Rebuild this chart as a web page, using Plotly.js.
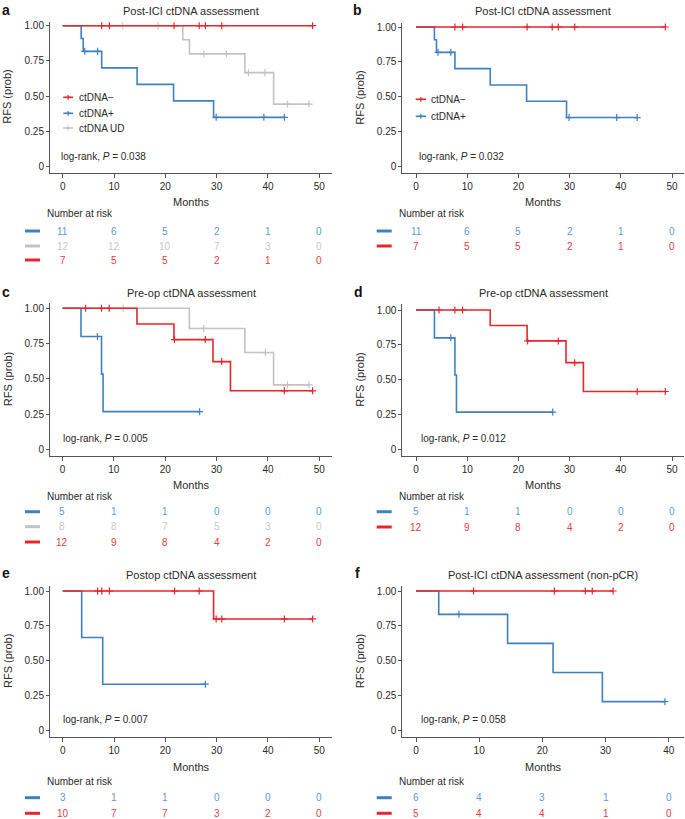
<!DOCTYPE html>
<html>
<head>
<meta charset="utf-8">
<script src="https://cdn.plot.ly/plotly-3.0.1.min.js"></script>
<style>html,body{margin:0;padding:0;background:#fff;}#chart{width:685px;height:819px;}</style>
</head>
<body>
<div id="chart"></div>
<script>
// ---------------- DATA ----------------
const yTickVals = [0, 0.25, 0.5, 0.75, 1];
const yTickText = ['0', '0.25', '0.50', '0.75', '1.00'];
const xTicks50 = [0, 10, 20, 30, 40, 50];
const xTicks40 = [0, 10, 20, 30, 40];

const labelNeg = 'ctDNA\u2212';
const labelPos = 'ctDNA+';
const labelUD = 'ctDNA UD';

const titleA = 'Post-ICI ctDNA assessment';
const titleB = 'Post-ICI ctDNA assessment';
const titleC = 'Pre-op ctDNA assessment';
const titleD = 'Pre-op ctDNA assessment';
const titleE = 'Postop ctDNA assessment';
const titleF = 'Post-ICI ctDNA assessment (non-pCR)';

const pA = '0.038', pB = '0.032', pC = '0.005', pD = '0.012', pE = '0.007', pF = '0.058';

// Post-ICI (panels a, b)
const timesPosPostICI = [0, 3.6, 4.0, 7.6, 14.5, 21.6, 29.4, 43.2];
const survPosPostICI  = [1, 0.909, 0.818, 0.701, 0.584, 0.467, 0.350, 0.350];
const censPosPostICI  = [4.3, 6.8, 29.9, 39.2, 43.2];
const timesNegPostICI = [0, 48.7];
const survNegPostICI  = [1, 1];
const censNegPostICI  = [7.6, 9.1, 21.7, 26.6, 27.8, 31.0, 48.7];
const timesUDPostICI  = [0, 23.4, 24.7, 35.5, 41.1, 48.0];
const survUDPostICI   = [1, 0.9, 0.8, 0.667, 0.444, 0.444];
const censUDPostICI   = [11.7, 18.6, 27.5, 31.9, 36.2, 39.4, 43.8, 48.0];

// Pre-op (panels c, d)
const timesPosPreop = [0, 3.6, 7.6, 7.9, 26.7];
const survPosPreop  = [1, 0.8, 0.533, 0.267, 0.267];
const censPosPreop  = [6.8, 26.7];
const timesNegPreop = [0, 14.5, 21.7, 29.3, 32.7, 48.7];
const survNegPreop  = [1, 0.889, 0.778, 0.622, 0.415, 0.415];
const censNegPreop  = [4.5, 7.6, 9.1, 21.8, 27.8, 31.0, 43.2, 48.7];
const timesUDPreop  = [0, 24.7, 35.5, 41.1, 48.0];
const survUDPreop   = [1, 0.857, 0.686, 0.457, 0.457];
const censUDPreop   = [11.8, 27.5, 39.5, 43.8, 48.0];

// Postop (panel e)
const timesPosPostop = [0, 3.7, 7.8, 27.8];
const survPosPostop  = [1, 0.667, 0.333, 0.333];
const censPosPostop  = [27.8];
const timesNegPostop = [0, 29.4, 48.7];
const survNegPostop  = [1, 0.8, 0.8];
const censNegPostop  = [6.8, 7.6, 9.1, 21.8, 26.6, 29.9, 31.0, 43.2, 48.7];

// Post-ICI non-pCR (panel f)
const timesPosNonPCR = [0, 3.6, 14.5, 21.7, 29.5, 39.4];
const survPosNonPCR  = [1, 0.833, 0.625, 0.417, 0.208, 0.208];
const censPosNonPCR  = [6.8, 39.4];
const timesNegNonPCR = [0, 31.2];
const survNegNonPCR  = [1, 1];
const censNegNonPCR  = [9.1, 21.9, 26.8, 27.9, 31.2];

// Numbers at risk
const riskA_pos = [11, 6, 5, 2, 1, 0];
const riskA_ud  = [12, 12, 10, 7, 3, 0];
const riskA_neg = [7, 5, 5, 2, 1, 0];
const riskB_pos = [11, 6, 5, 2, 1, 0];
const riskB_neg = [7, 5, 5, 2, 1, 0];
const riskC_pos = [5, 1, 1, 0, 0, 0];
const riskC_ud  = [8, 8, 7, 5, 3, 0];
const riskC_neg = [12, 9, 8, 4, 2, 0];
const riskD_pos = [5, 1, 1, 0, 0, 0];
const riskD_neg = [12, 9, 8, 4, 2, 0];
const riskE_pos = [3, 1, 1, 0, 0, 0];
const riskE_neg = [10, 7, 7, 3, 2, 0];
const riskF_pos = [6, 4, 3, 1, 0];
const riskF_neg = [5, 4, 4, 1, 0];

// ---------------- STYLE / LAYOUT ----------------
const W = 685, H = 819;
const FONT = 'Liberation Sans, Arial, Helvetica, sans-serif';
const TXT = '#2a2a2a';
const AX = '#555555';
const C = {
  neg: '#e5262b', pos: '#3f80c0', ud: '#c3c3c3',
  negT: '#ec3a3e', posT: '#5b9bd5', udT: '#c8c8c8'
};
const px = p => p / W;
const py = p => 1 - p / H;

const panels = [
  { letter: 'a', title: titleA, p: pA, ticks: xTicks50,
    l: 50, r: 332, t: 21.7, b: 172.7, x0p: 62.7, xv1: 50, x1p: 319.3, y1p: 25.7, y0p: 166.7,
    titleY: 11, letterX: 0, letterY: 10, pX: 59.3, pY: 156, monthsY: 202, narY: 214, rowY: [231, 246, 260], barX: [25, 40], narX: 44.7,
    series: [
      { t: timesUDPostICI, s: survUDPostICI, c: censUDPostICI, col: C.ud },
      { t: timesPosPostICI, s: survPosPostICI, c: censPosPostICI, col: C.pos },
      { t: timesNegPostICI, s: survNegPostICI, c: censNegPostICI, col: C.neg }
    ],
    risk: [[riskA_pos, C.pos, C.posT], [riskA_ud, C.ud, C.udT], [riskA_neg, C.neg, C.negT]],
    legend: { x0: 63.3, x1: 73, tx: 77.3, ys: [97.3, 113.3, 128], items: [[labelNeg, C.neg], [labelPos, C.pos], [labelUD, C.ud]] }
  },
  { letter: 'b', title: titleB, p: pB, ticks: xTicks50,
    l: 402.3, r: 684, t: 22.7, b: 173, x0p: 416, xv1: 50, x1p: 672, y1p: 27, y0p: 166.3,
    titleY: 11, letterX: 351, letterY: 10, pX: 416.5, pY: 156, monthsY: 202, narY: 214, rowY: [231, 246], barX: [376.7, 391.7], narX: 397.3,
    series: [
      { t: timesPosPostICI, s: survPosPostICI, c: censPosPostICI, col: C.pos },
      { t: timesNegPostICI, s: survNegPostICI, c: censNegPostICI, col: C.neg }
    ],
    risk: [[riskB_pos, C.pos, C.posT], [riskB_neg, C.neg, C.negT]],
    legend: { x0: 415.7, x1: 426, tx: 429.3, ys: [99.3, 116.3], items: [[labelNeg, C.neg], [labelPos, C.pos]] }
  },
  { letter: 'c', title: titleC, p: pC, ticks: xTicks50,
    l: 50, r: 332, t: 303.3, b: 456, x0p: 62.5, xv1: 50, x1p: 319.3, y1p: 308.3, y0p: 449.3,
    titleY: 293.3, letterX: 0, letterY: 292, pX: 60.5, pY: 438.5, monthsY: 485, narY: 496.7, rowY: [511.7, 526.7, 542], barX: [25, 40], narX: 44.7,
    series: [
      { t: timesUDPreop, s: survUDPreop, c: censUDPreop, col: C.ud },
      { t: timesPosPreop, s: survPosPreop, c: censPosPreop, col: C.pos },
      { t: timesNegPreop, s: survNegPreop, c: censNegPreop, col: C.neg }
    ],
    risk: [[riskC_pos, C.pos, C.posT], [riskC_ud, C.ud, C.udT], [riskC_neg, C.neg, C.negT]]
  },
  { letter: 'd', title: titleD, p: pD, ticks: xTicks50,
    l: 402.3, r: 684, t: 304, b: 455.7, x0p: 416, xv1: 50, x1p: 672, y1p: 310, y0p: 449.3,
    titleY: 293.3, letterX: 352, letterY: 292, pX: 418.5, pY: 438.5, monthsY: 485, narY: 496.7, rowY: [511.7, 527], barX: [376.7, 391.7], narX: 397.3,
    series: [
      { t: timesPosPreop, s: survPosPreop, c: censPosPreop, col: C.pos },
      { t: timesNegPreop, s: survNegPreop, c: censNegPreop, col: C.neg }
    ],
    risk: [[riskD_pos, C.pos, C.posT], [riskD_neg, C.neg, C.negT]]
  },
  { letter: 'e', title: titleE, p: pE, ticks: xTicks50,
    l: 50, r: 332, t: 585.7, b: 737.3, x0p: 62.7, xv1: 50, x1p: 319.3, y1p: 591, y0p: 730.7,
    titleY: 575, letterX: 0, letterY: 573, pX: 60.5, pY: 719.5, monthsY: 767, narY: 781, rowY: [797.7, 813.3], barX: [25, 40], narX: 44.7,
    series: [
      { t: timesPosPostop, s: survPosPostop, c: censPosPostop, col: C.pos },
      { t: timesNegPostop, s: survNegPostop, c: censNegPostop, col: C.neg }
    ],
    risk: [[riskE_pos, C.pos, C.posT], [riskE_neg, C.neg, C.negT]]
  },
  { letter: 'f', title: titleF, p: pF, ticks: xTicks40,
    l: 402.3, r: 684, t: 585.7, b: 737.3, x0p: 416, xv1: 40, x1p: 668.7, y1p: 591, y0p: 730.7,
    titleY: 575, letterX: 353, letterY: 573, pX: 418.5, pY: 719.5, monthsY: 767, narY: 781, rowY: [797.7, 813.3], barX: [376.7, 391.7], narX: 397.3,
    series: [
      { t: timesPosNonPCR, s: survPosNonPCR, c: censPosNonPCR, col: C.pos },
      { t: timesNegNonPCR, s: survNegNonPCR, c: censNegNonPCR, col: C.neg }
    ],
    risk: [[riskF_pos, C.pos, C.posT], [riskF_neg, C.neg, C.negT]]
  }
];

function survAt(times, surv, t) {
  let v = surv[0];
  for (let i = 0; i < times.length; i++) { if (times[i] <= t) v = surv[i]; }
  return v;
}

const traces = [];
const annotations = [];
const shapes = [];
const layout = {
  width: W, height: H,
  margin: { l: 0, r: 0, t: 0, b: 0 },
  paper_bgcolor: '#fff', plot_bgcolor: 'rgba(0,0,0,0)',
  showlegend: false,
  font: { family: FONT, size: 10, color: TXT }
};

panels.forEach((P, i) => {
  const n = i + 1;
  const xa = 'x' + (n > 1 ? n : ''), ya = 'y' + (n > 1 ? n : '');
  const sx = (P.x1p - P.x0p) / P.xv1;
  const xr = [(P.l - P.x0p) / sx, (P.r - P.x0p) / sx];
  const sy = (P.y1p - P.y0p);
  const yr = [(P.b - P.y0p) / sy, (P.t - P.y0p) / sy];

  layout['xaxis' + (n > 1 ? n : '')] = {
    domain: [px(P.l), px(P.r)], anchor: ya, range: xr,
    tickvals: P.ticks, ticktext: P.ticks.map(String),
    showline: true, linecolor: AX, linewidth: 1,
    ticks: 'outside', ticklen: 4, tickcolor: AX, tickwidth: 1,
    showgrid: false, zeroline: false, fixedrange: true,
    tickfont: { family: FONT, size: 10, color: TXT }
  };
  layout['yaxis' + (n > 1 ? n : '')] = {
    domain: [py(P.b), py(P.t)], anchor: xa, range: yr,
    tickvals: yTickVals, ticktext: yTickText,
    showline: true, linecolor: AX, linewidth: 1,
    ticks: 'outside', ticklen: 3, tickcolor: AX, tickwidth: 1,
    showgrid: false, zeroline: false, fixedrange: true,
    tickfont: { family: FONT, size: 10, color: TXT }
  };

  P.series.forEach(S => {
    traces.push({
      type: 'scatter', mode: 'lines', x: S.t, y: S.s, xaxis: xa, yaxis: ya,
      line: { shape: 'hv', color: S.col, width: 1.6 }, hoverinfo: 'skip'
    });
    traces.push({
      type: 'scatter', mode: 'markers', x: S.c, y: S.c.map(t => survAt(S.t, S.s, t)),
      xaxis: xa, yaxis: ya, cliponaxis: false,
      marker: { symbol: 'cross-thin', size: 5, color: S.col, line: { color: S.col, width: 1.2 } },
      hoverinfo: 'skip'
    });
  });

  const cx = (P.l + P.r) / 2;
  annotations.push({ xref: 'paper', yref: 'paper', x: px(P.letterX), y: py(P.letterY), xanchor: 'left', yanchor: 'middle',
    text: '<b>' + P.letter + '</b>', showarrow: false, font: { family: FONT, size: 14, color: '#111' } });
  annotations.push({ xref: 'paper', yref: 'paper', x: px(cx), y: py(P.titleY), xanchor: 'center', yanchor: 'middle',
    text: P.title, showarrow: false, font: { family: FONT, size: 11, color: TXT } });
  annotations.push({ xref: 'paper', yref: 'paper', x: px(P.l - 42.5), y: py((P.t + P.b) / 2), xanchor: 'center', yanchor: 'middle',
    text: 'RFS (prob)', textangle: -90, showarrow: false, font: { family: FONT, size: 11, color: TXT } });
  annotations.push({ xref: 'paper', yref: 'paper', x: px(cx), y: py(P.monthsY), xanchor: 'center', yanchor: 'middle',
    text: 'Months', showarrow: false, font: { family: FONT, size: 11, color: TXT } });
  annotations.push({ xref: 'paper', yref: 'paper', x: px(P.pX), y: py(P.pY), xanchor: 'left', yanchor: 'middle',
    text: 'log-rank, <i>P</i> = ' + P.p, showarrow: false, font: { family: FONT, size: 10, color: TXT } });
  annotations.push({ xref: 'paper', yref: 'paper', x: px(P.narX), y: py(P.narY), xanchor: 'left', yanchor: 'middle',
    text: 'Number at risk', showarrow: false, font: { family: FONT, size: 10, color: TXT } });
  P.risk.forEach((R, k) => {
    const vals = R[0];
    const ry = P.rowY[k];
    shapes.push({ type: 'line', xref: 'paper', yref: 'paper', x0: px(P.barX[0]), x1: px(P.barX[1]), y0: py(ry), y1: py(ry),
      line: { color: R[1], width: 3 } });
    vals.forEach((v, j) => {
      annotations.push({ xref: xa, yref: 'paper', x: P.ticks[j], y: py(ry), xanchor: 'center', yanchor: 'middle',
        text: String(v), showarrow: false, font: { family: FONT, size: 10, color: R[2] } });
    });
  });
  if (P.legend) {
    const L = P.legend;
    L.items.forEach((it, k) => {
      const ly = L.ys[k];
      shapes.push({ type: 'line', xref: 'paper', yref: 'paper', x0: px(L.x0), x1: px(L.x1), y0: py(ly), y1: py(ly),
        line: { color: it[1], width: 1.6 } });
      const mx = (L.x0 + L.x1) / 2, s = 2.4;
      shapes.push({ type: 'path', xref: 'paper', yref: 'paper',
        path: `M${px(mx - s)},${py(ly)} L${px(mx + s)},${py(ly)} M${px(mx)},${py(ly - s)} L${px(mx)},${py(ly + s)}`,
        line: { color: it[1], width: 1.2 } });
      annotations.push({ xref: 'paper', yref: 'paper', x: px(L.tx), y: py(ly), xanchor: 'left', yanchor: 'middle',
        text: it[0], showarrow: false, font: { family: FONT, size: 10, color: TXT } });
    });
  }
});

layout.annotations = annotations;
layout.shapes = shapes;

Plotly.newPlot('chart', traces, layout, { staticPlot: true, displayModeBar: false });
</script>
</body>
</html>
